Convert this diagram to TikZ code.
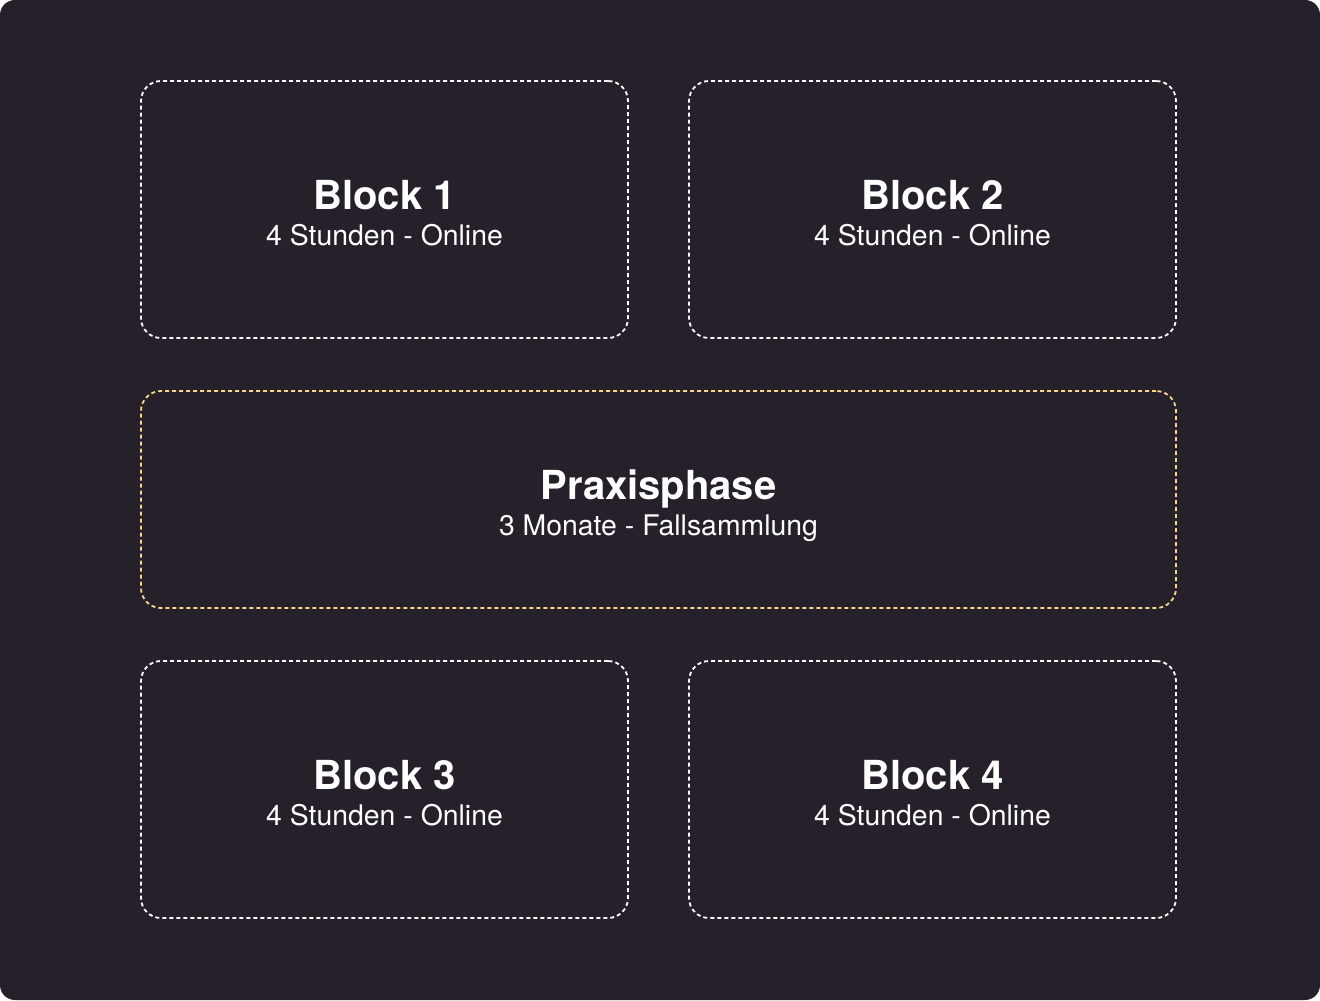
\documentclass[tikz,border=0pt]{standalone}
\usepackage{fontspec}
\setmainfont{TeX Gyre Heros}
\usetikzlibrary{positioning}

\definecolor{panelbg}{HTML}{25202A}
\definecolor{phaseline}{HTML}{F6D68C}

\tikzset{
    blockbox/.style={draw=white, dash pattern=on 2pt off 1.5pt, line width=0.9pt,
        rounded corners=10pt, minimum width=243.5pt, minimum height=128.5pt, inner sep=0pt},
    phasebox/.style={blockbox, draw=phaseline, minimum width=517.5pt, minimum height=108.5pt},
    titletext/.style={anchor=base, text=white, inner sep=0pt, font=\fontsize{20}{22}\selectfont\bfseries},
    subtext/.style={anchor=base, text=white, inner sep=0pt, font=\fontsize{14.2}{16}\selectfont}
}

\begin{document}
\begin{tikzpicture}[x=0.5pt, y=-0.5pt]
    \fill[white] (0,0) rectangle (1320,1000);
    \fill[panelbg, rounded corners=7.5pt] (0,0) rectangle (1320,1000);
    \useasboundingbox (0,0) rectangle (1320,1000);

    \node[blockbox] (block_1) at (384.5,209.5) {};
    \node[blockbox] (block_2) [right = 29.6pt of block_1] {};
    \node[phasebox] (praxis) at (658.5,499.5) {};
    \node[blockbox] (block_3) at (384.5,789.5) {};
    \node[blockbox] (block_4) [right = 29.6pt of block_3] {};

    %Block 1
    \node[titletext] (block_1_title) at (block_1.center) {Block 1};
    \node[subtext] (block_1_sub) at ([yshift=-18pt]block_1.center) {4 Stunden - Online};

    %Block 2
    \node[titletext] (block_2_title) at (block_2.center) {Block 2};
    \node[subtext] (block_2_sub) at ([yshift=-18pt]block_2.center) {4 Stunden - Online};

    %Praxis
    \node[titletext] (praxis_title) at (praxis.center) {Praxisphase};
    \node[subtext] (praxis_sub) at ([yshift=-18pt]praxis.center) {3 Monate - Fallsammlung};

    %Block 3
    \node[titletext] (block_3_title) at (block_3.center) {Block 3};
    \node[subtext] (block_3_sub) at ([yshift=-18pt]block_3.center) {4 Stunden - Online};

    %Block 4
    \node[titletext] (block_4_title) at (block_4.center) {Block 4};
    \node[subtext] (block_4_sub) at ([yshift=-18pt]block_4.center) {4 Stunden - Online};
\end{tikzpicture}
\end{document}
